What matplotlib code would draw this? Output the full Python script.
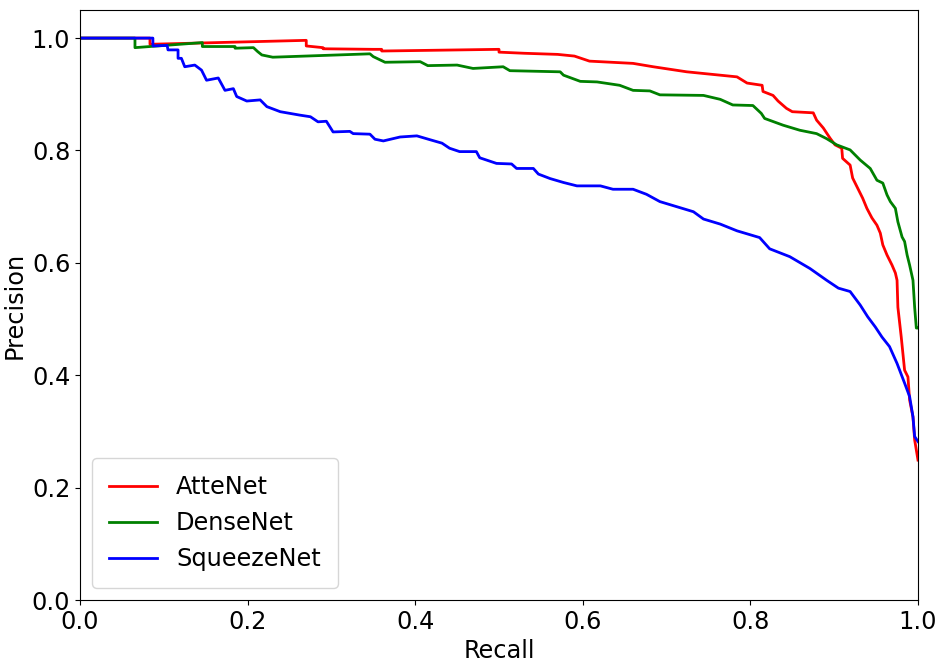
import matplotlib

matplotlib.use("Agg")

import matplotlib.pyplot as plt

# Precision-recall points
atte_recall = [0, 0.0835, 0.0835, 0.27, 0.27, 0.29, 0.29, 0.35, 0.36, 0.36,
               0.50, 0.50, 0.53, 0.57, 0.59, 0.608, 0.66, 0.684, 0.724, 0.784,
               0.796, 0.814, 0.815, 0.827, 0.833, 0.843, 0.85, 0.875, 0.879, 0.887,
               0.895, 0.901, 0.909, 0.910, 0.919, 0.922, 0.928, 0.934, 0.939, 0.945,
               0.951, 0.955, 0.958, 0.963, 0.969, 0.973, 0.975, 0.976, 0.98, 0.984,
               0.988, 0.990, 0.994, 0.996, 0.998, 1.0]
atte_precision = [1.0, 1.0, 0.989, 0.996, 0.986, 0.983, 0.981, 0.980, 0.980, 0.977,
                  0.980, 0.975, 0.973, 0.971, 0.968, 0.959, 0.955, 0.949, 0.940, 0.931,
                  0.920, 0.916, 0.905, 0.898, 0.888, 0.875, 0.869, 0.867, 0.854, 0.840,
                  0.822, 0.810, 0.804, 0.786, 0.774, 0.751, 0.733, 0.715, 0.697, 0.680,
                  0.667, 0.653, 0.632, 0.614, 0.596, 0.582, 0.569, 0.521, 0.468, 0.409,
                  0.397, 0.356, 0.326, 0.285, 0.267, 0.249]

dense_recall = [0, 0.0656, 0.0656, 0.146, 0.146, 0.185, 0.185, 0.207, 0.212, 0.217,
                0.23, 0.346, 0.350, 0.364, 0.406, 0.415, 0.45, 0.469, 0.505, 0.513,
                0.573, 0.577, 0.597, 0.617, 0.644, 0.66, 0.68, 0.692, 0.744, 0.764,
                0.779, 0.803, 0.813, 0.817, 0.839, 0.859, 0.879, 0.891, 0.903, 0.919,
                0.931, 0.943, 0.951, 0.958, 0.963, 0.967, 0.973, 0.976, 0.981, 0.984,
                0.987, 0.990, 0.994, 0.996, 0.998, 1.0]
dense_precision = [1.0, 1.0, 0.983, 0.992, 0.985, 0.985, 0.982, 0.983, 0.976, 0.970,
                   0.966, 0.972, 0.967, 0.957, 0.958, 0.951, 0.952, 0.946, 0.949, 0.942,
                   0.940, 0.934, 0.923, 0.922, 0.916, 0.907, 0.906, 0.899, 0.898, 0.891,
                   0.881, 0.880, 0.866, 0.857, 0.845, 0.836, 0.830, 0.821, 0.810, 0.801,
                   0.783, 0.768, 0.747, 0.742, 0.721, 0.709, 0.697, 0.673, 0.646, 0.638,
                   0.614, 0.596, 0.569, 0.521, 0.484, 0.484]

squeeze_recall = [0, 0.087, 0.087, 0.104, 0.105, 0.117, 0.117, 0.121, 0.125, 0.137,
                  0.145, 0.149, 0.151, 0.165, 0.173, 0.183, 0.187, 0.199, 0.215, 0.223,
                  0.239, 0.262, 0.275, 0.284, 0.294, 0.302, 0.322, 0.326, 0.346, 0.352,
                  0.362, 0.382, 0.402, 0.418, 0.432, 0.441, 0.453, 0.473, 0.477, 0.497,
                  0.515, 0.521, 0.541, 0.547, 0.561, 0.577, 0.593, 0.621, 0.636, 0.66,
                  0.676, 0.692, 0.712, 0.732, 0.744, 0.764, 0.784, 0.811, 0.823, 0.847,
                  0.871, 0.891, 0.905, 0.919, 0.931, 0.940, 0.949, 0.957, 0.966, 0.975,
                  0.984, 0.990, 0.994, 0.996, 1.0]
squeeze_precision = [1.0, 1.0, 0.986, 0.987, 0.979, 0.979, 0.964, 0.964, 0.949, 0.952,
                     0.943, 0.931, 0.925, 0.929, 0.907, 0.910, 0.896, 0.888, 0.890, 0.878,
                     0.869, 0.863, 0.860, 0.851, 0.852, 0.833, 0.834, 0.830, 0.829, 0.820,
                     0.817, 0.824, 0.826, 0.819, 0.813, 0.804, 0.798, 0.798, 0.787, 0.777,
                     0.776, 0.768, 0.768, 0.758, 0.750, 0.743, 0.737, 0.737, 0.731, 0.731,
                     0.722, 0.709, 0.700, 0.691, 0.678, 0.669, 0.657, 0.645, 0.625, 0.611,
                     0.590, 0.569, 0.555, 0.549, 0.525, 0.504, 0.486, 0.468, 0.451, 0.421,
                     0.386, 0.362, 0.326, 0.291, 0.282]

series = [
    ("AtteNet", atte_recall, atte_precision, "red"),
    ("DenseNet", dense_recall, dense_precision, "green"),
    ("SqueezeNet", squeeze_recall, squeeze_precision, "blue"),
]

FONT_SIZE = 17.3

fig = plt.figure(figsize=(9.44, 6.66), dpi=100)
ax = fig.add_axes([80 / 944, 1 - 600 / 666, 838 / 944, 590 / 666])
for name, recall, precision, color in series:
    ax.plot(recall, precision, color=color, lw=2, label=name)

ax.set_xlim(0, 1)
ax.set_ylim(0, 1.05)
ax.set_xlabel("Recall", fontsize=FONT_SIZE)
ax.set_ylabel("Precision", fontsize=FONT_SIZE)
ax.tick_params(labelsize=FONT_SIZE)
ax.legend(loc="lower left", fontsize=FONT_SIZE, borderpad=0.7)

fig.savefig("out.png", dpi=100)
plt.close(fig)
